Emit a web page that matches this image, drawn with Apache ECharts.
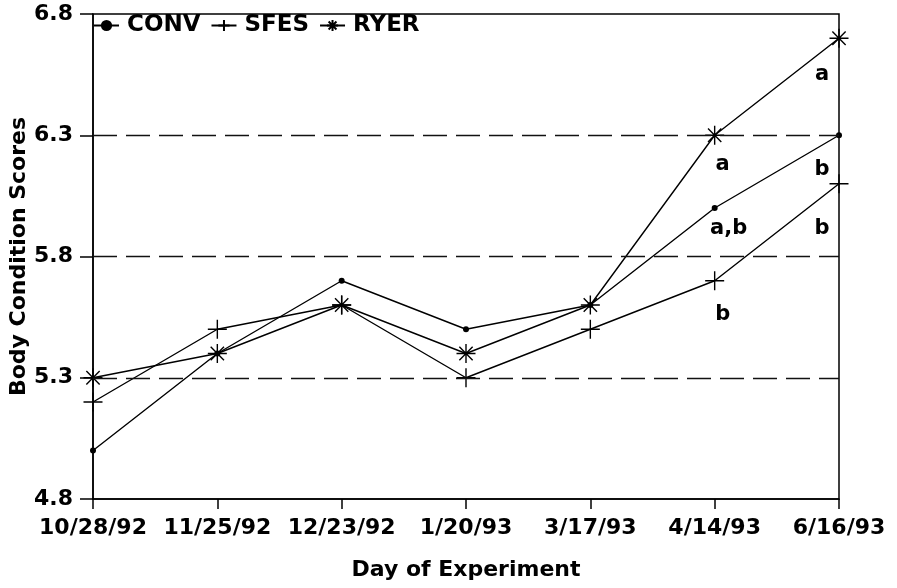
<!DOCTYPE html>
<html>
<head>
<meta charset="utf-8">
<script src="https://cdn.jsdelivr.net/npm/echarts@6/dist/echarts.min.js"></script>
<style>
  html, body { margin: 0; padding: 0; background: #fff; }
  #chart { width: 897px; height: 588px; }
</style>
</head>
<body>
<div id="chart"></div>
<script>
  var days = ['10/28/92', '11/25/92', '12/23/92', '1/20/93', '3/17/93', '4/14/93', '6/16/93']
  var conv = [5.0, 5.4, 5.7, 5.5, 5.6, 6.0, 6.3]
  var sfes = [5.2, 5.5, 5.6, 5.3, 5.5, 5.7, 6.1]
  var ryer = [5.3, 5.4, 5.6, 5.4, 5.6, 6.3, 6.7]
  var yTicks = [4.8, 5.3, 5.8, 6.3, 6.8]
  var dashLines = [5.3, 5.8, 6.3]
  // significance letters
  var noteText = ['a', 'b', 'b', 'a', 'a,b', 'b']
  var noteDay = ['6/16/93', '6/16/93', '6/16/93', '4/14/93', '4/14/93', '4/14/93']
  var noteVal = [6.55, 6.16, 5.915, 6.18, 5.915, 5.56]

  var font = 'DejaVu Sans, sans-serif'
  var plusPath = 'path://M0,-10 L0,10 M-10,0 L10,0'
  var starPath = 'path://M0,-10 L0,10 M-10,0 L10,0 M-7,-7 L7,7 M-7,7 L7,-7'

  var notes = noteText.map(function (t, i) {
    return {
      value: [noteDay[i], noteVal[i]],
      label: { formatter: t, offset: noteDay[i] === '6/16/93' ? [-17, 0] : [t === 'a,b' ? 14 : 8, 0] }
    }
  })

  var chart = echarts.init(document.getElementById('chart'))
  chart.setOption({
    animation: false,
    grid: {
      left: 93, right: 58, top: 14, bottom: 89,
      outerBoundsMode: 'none', containLabel: false,
      show: true, borderColor: '#000', borderWidth: 1.5
    },
    legend: {
      data: ['CONV', 'SFES', 'RYER'],
      left: 93, top: 14, padding: 0,
      itemWidth: 25, itemHeight: 14, itemGap: 10,
      textStyle: { fontFamily: font, fontWeight: 'bold', fontSize: 23, color: '#000', padding: [0, 0, 0, 3] }
    },
    xAxis: {
      type: 'category',
      data: days,
      boundaryGap: false,
      name: 'Day of Experiment',
      nameLocation: 'middle',
      nameGap: 60,
      nameMoveOverlap: false,
      nameTextStyle: { fontFamily: font, fontWeight: 'bold', fontSize: 22, color: '#000' },
      axisLine: { lineStyle: { color: '#000', width: 1.5 } },
      axisTick: { length: 10, lineStyle: { color: '#000', width: 1.5 } },
      axisLabel: { interval: 0, margin: 18, fontFamily: font, fontWeight: 'bold', fontSize: 22, color: '#000' },
      splitLine: { show: false }
    },
    yAxis: {
      type: 'value',
      min: 4.8, max: 6.8,
      name: 'Body Condition Scores',
      nameLocation: 'middle',
      nameGap: 63,
      nameMoveOverlap: false,
      nameTextStyle: { fontFamily: font, fontWeight: 'bold', fontSize: 22, color: '#000' },
      axisLine: { show: true, lineStyle: { color: '#000', width: 1.5 } },
      axisTick: { show: true, length: 13, customValues: yTicks, lineStyle: { color: '#000', width: 1.5 } },
      axisLabel: {
        customValues: yTicks, margin: 20,
        fontFamily: font, fontWeight: 'bold', fontSize: 22, color: '#000',
        formatter: function (v) { return v.toFixed(1) }
      },
      splitLine: { show: false }
    },
    series: [
      {
        name: 'CONV', type: 'line', data: conv,
        symbol: 'circle', symbolSize: 6,
        lineStyle: { color: '#000', width: 1.4 },
        itemStyle: { color: '#000' },
        markLine: {
          silent: true, symbol: 'none', label: { show: false },
          lineStyle: { color: '#111', width: 1.4, type: [24, 9] },
          data: dashLines.map(function (v) { return { yAxis: v } })
        }
      },
      {
        name: 'SFES', type: 'line', data: sfes,
        symbol: plusPath, symbolSize: 19,
        lineStyle: { color: '#000', width: 1.4 },
        itemStyle: { color: 'none', borderColor: '#000', borderWidth: 1.4 }
      },
      {
        name: 'RYER', type: 'line', data: ryer,
        symbol: starPath, symbolSize: 19,
        lineStyle: { color: '#000', width: 1.4 },
        itemStyle: { color: 'none', borderColor: '#000', borderWidth: 1.4 }
      },
      {
        name: 'notes', type: 'scatter', data: notes,
        symbolSize: 0, silent: true,
        itemStyle: { opacity: 1 },
        label: { show: true, position: 'inside', fontFamily: font, fontWeight: 'bold', fontSize: 21, color: '#000' }
      }
    ]
  })
</script>
</body>
</html>
